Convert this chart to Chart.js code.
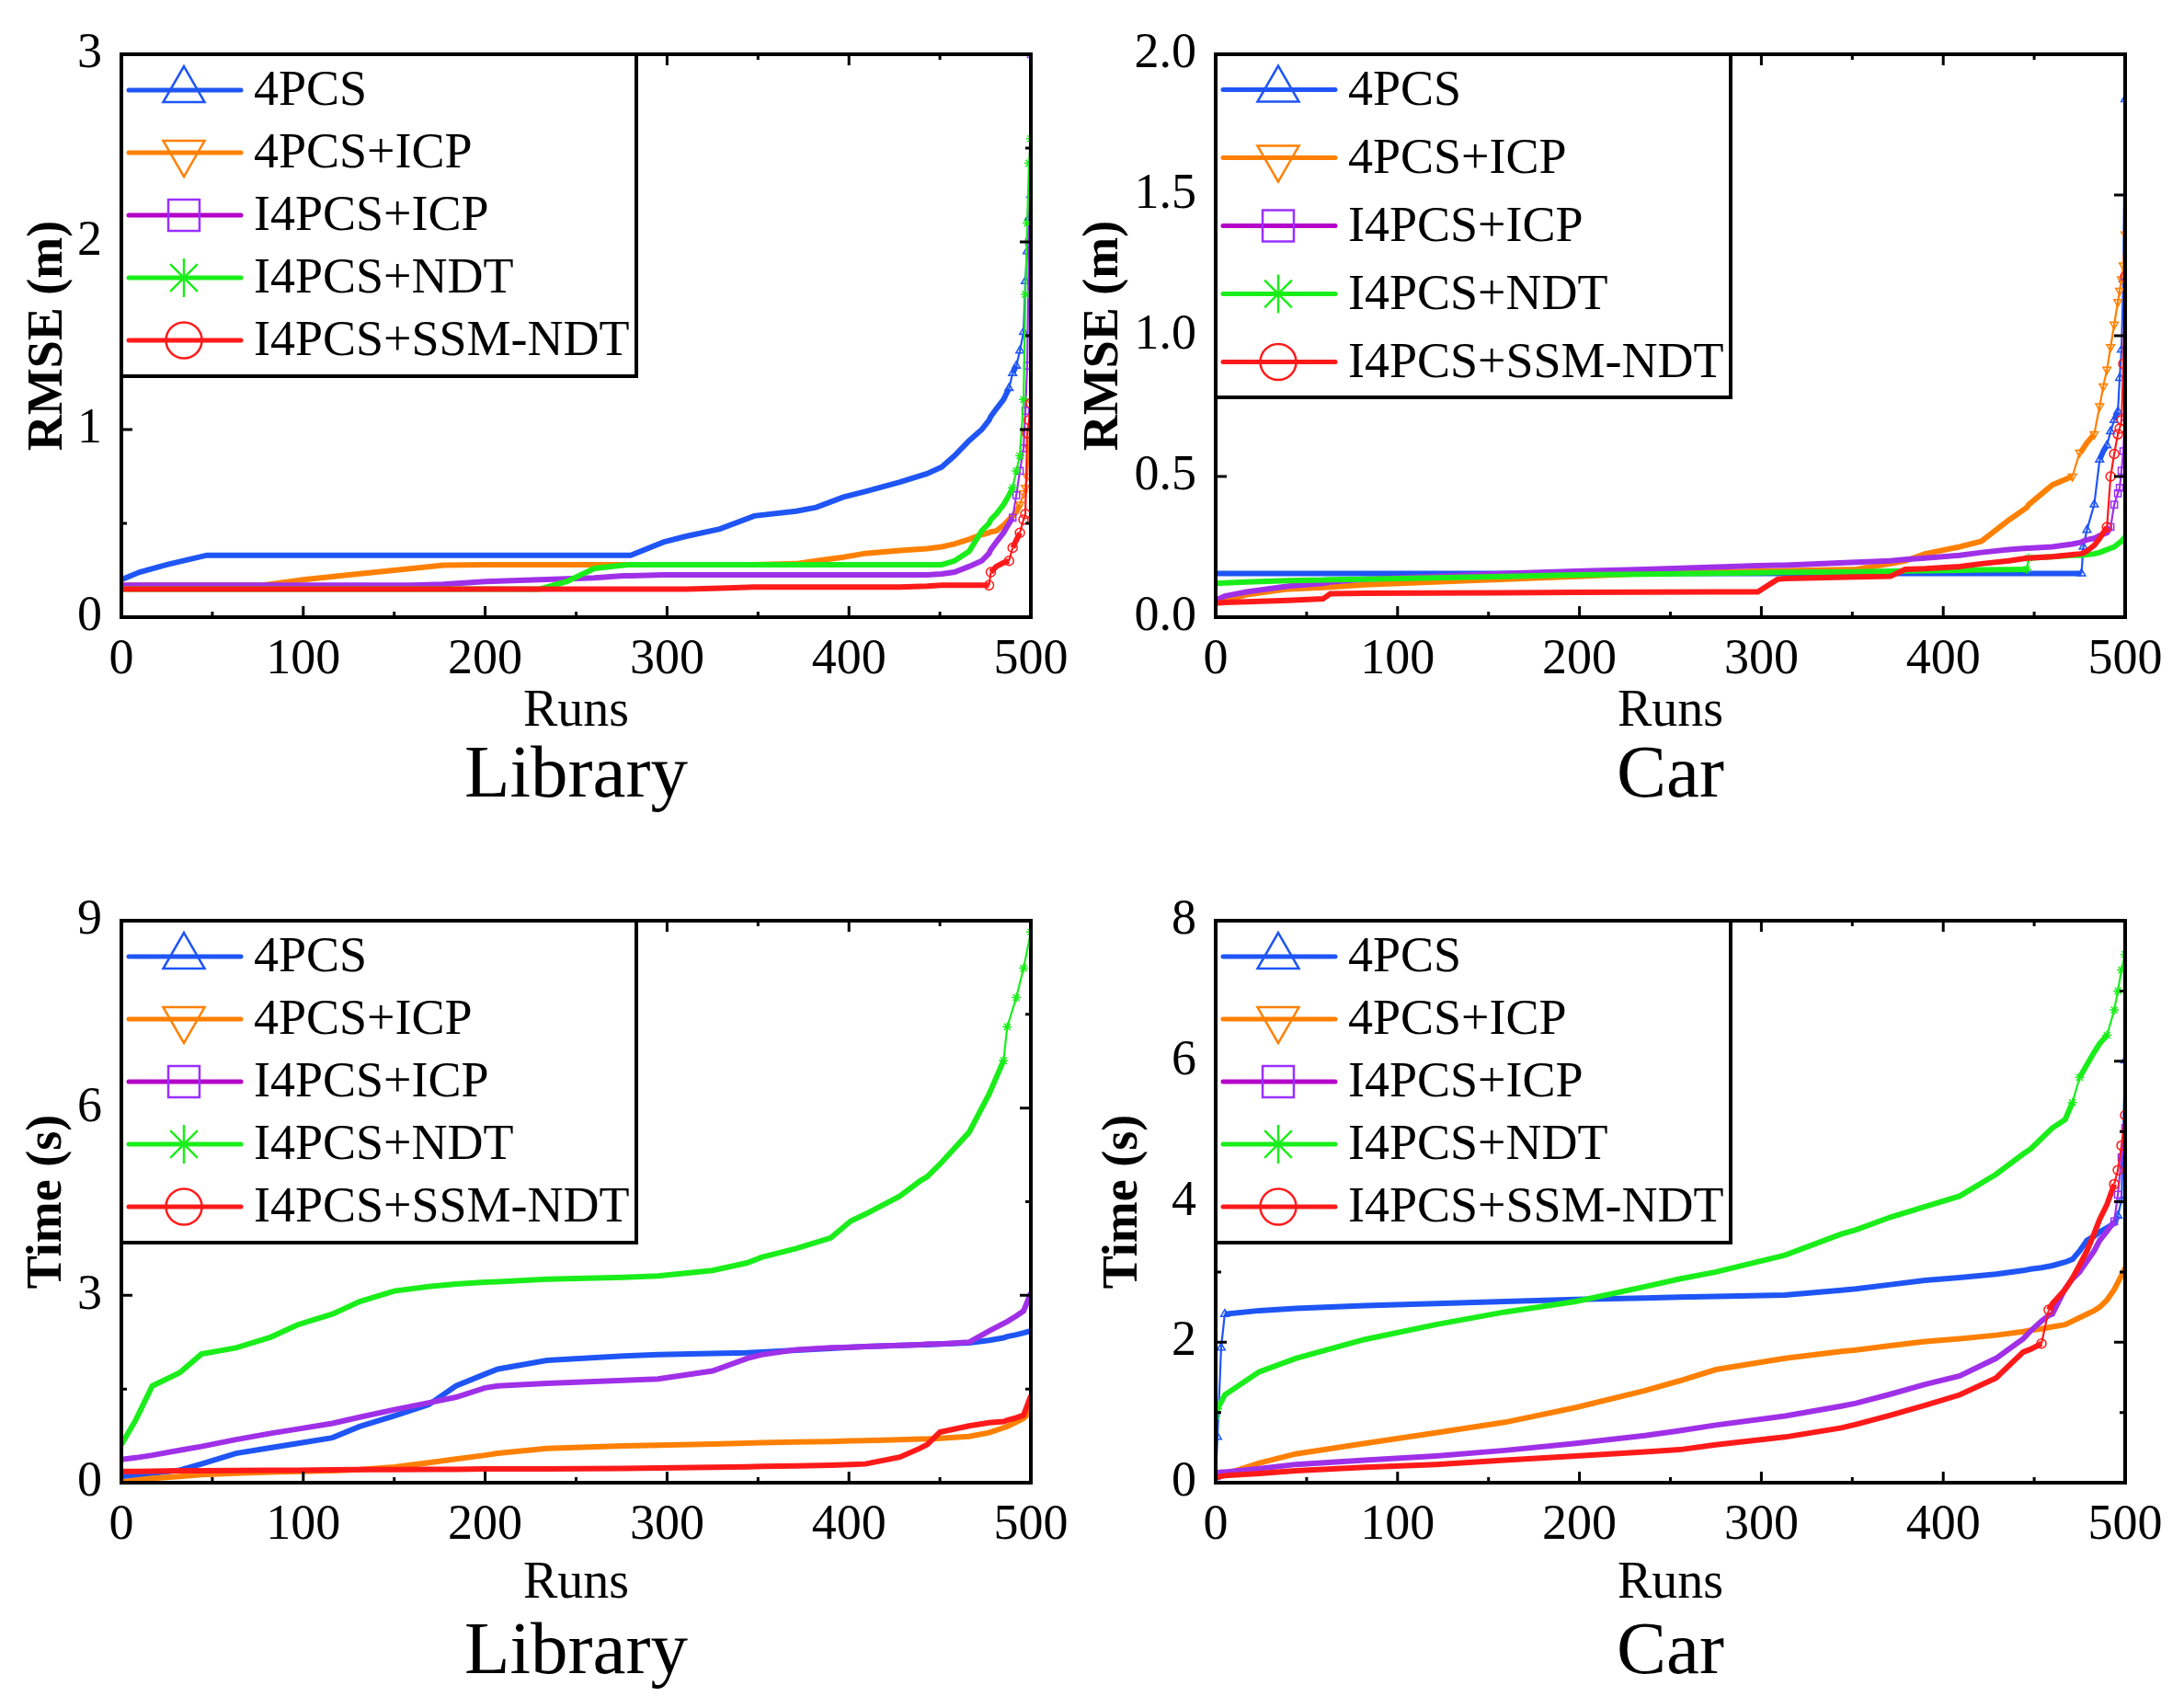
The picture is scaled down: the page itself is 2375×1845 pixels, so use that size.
<!DOCTYPE html>
<html>
<head>
<meta charset="utf-8">
<script src="https://cdn.jsdelivr.net/npm/chart.js@4.4.0/dist/chart.umd.min.js"></script>
<style>
  html, body { margin: 0; padding: 0; background: #fff; }
  body { width: 2375px; height: 1845px; position: relative; overflow: hidden; }
  canvas { position: absolute; }
</style>
</head>
<body>
<canvas id="libRmse" width="1190" height="922" style="left:0;top:0"></canvas>
<canvas id="carRmse" width="1225" height="922" style="left:1150px;top:0"></canvas>
<canvas id="libTime" width="1190" height="923" style="left:0;top:922px"></canvas>
<canvas id="carTime" width="1225" height="923" style="left:1150px;top:922px"></canvas>
<script>
// series, in legend order
const seriesNames = ['4PCS', '4PCS+ICP', 'I4PCS+ICP', 'I4PCS+NDT', 'I4PCS+SSM-NDT'];

// Library - RMSE (m)
const libRmseRuns = [0, 10, 25, 47, 78, 100, 130, 160, 177, 200, 230, 245, 260, 276, 280, 298, 310, 329, 348, 371,
  382, 397, 409, 428, 443, 451, 458, 466, 473, 477, 478, 481, 485, 488, 490, 492, 494, 496, 497, 498, 499, 500];
const libRmse4pcs = [0.20, 0.24, 0.28, 0.33, 0.33, 0.33, 0.33, 0.33, 0.33, 0.33, 0.33, 0.33, 0.33, 0.33, 0.33,
  0.40, 0.43, 0.47, 0.54, 0.565, 0.585, 0.64, 0.67, 0.72, 0.765, 0.80, 0.86, 0.94, 1.00, 1.05,
  1.07, 1.11, 1.16, 1.22, 1.30, 1.34, 1.42, 1.52, 1.79, 1.95, 2.13, 2.25];
const libRmse4pcsIcp = [0.17, 0.17, 0.17, 0.17, 0.17, 0.20, 0.23, 0.26, 0.277, 0.28, 0.28, 0.28, 0.28, 0.28, 0.28,
  0.28, 0.28, 0.28, 0.28, 0.285, 0.30, 0.32, 0.34, 0.355, 0.365, 0.375, 0.39, 0.415, 0.44, 0.45,
  0.455, 0.46, 0.49, 0.52, 0.54, 0.56, 0.60, 0.66, 0.69, 0.75, 0.90, 1.15];
const libRmseI4pcsIcp = [0.17, 0.17, 0.17, 0.17, 0.17, 0.17, 0.17, 0.17, 0.175, 0.19, 0.20, 0.205, 0.21, 0.22, 0.22,
  0.225, 0.225, 0.225, 0.225, 0.225, 0.225, 0.225, 0.225, 0.225, 0.225, 0.23, 0.24, 0.27, 0.30, 0.34,
  0.36, 0.40, 0.45, 0.50, 0.53, 0.65, 0.78, 0.90, 1.10, 1.34, 2.00, 3.00];
const libRmseI4pcsNdt = [0.15, 0.15, 0.15, 0.15, 0.15, 0.15, 0.15, 0.15, 0.15, 0.15, 0.15, 0.19, 0.26, 0.277, 0.28,
  0.28, 0.28, 0.28, 0.28, 0.28, 0.28, 0.28, 0.28, 0.28, 0.28, 0.28, 0.30, 0.35, 0.46, 0.50,
  0.52, 0.55, 0.60, 0.65, 0.69, 0.78, 0.86, 1.16, 1.72, 2.10, 2.42, 2.55];
const libRmseSsmNdt = [0.15, 0.15, 0.15, 0.15, 0.15, 0.15, 0.15, 0.15, 0.15, 0.15, 0.15, 0.15, 0.15, 0.15, 0.15,
  0.15, 0.15, 0.155, 0.16, 0.16, 0.16, 0.16, 0.16, 0.16, 0.165, 0.17, 0.17, 0.17, 0.17, 0.17,
  0.24, 0.27, 0.29, 0.30, 0.37, 0.41, 0.45, 0.52, 0.55, 0.98, 1.05, 1.14];

// Car - RMSE (m)
const carRmseRuns = [0, 5, 17, 40, 59, 63, 82, 120, 159, 198, 236, 275, 298, 309, 313, 352, 371, 379, 390, 409,
  421, 436, 446, 447, 460, 471, 475, 476, 477, 479, 483, 486, 488, 490, 492, 494, 496, 497, 498, 499, 500];
const carRmse4pcs = [0.155, 0.155, 0.155, 0.155, 0.155, 0.155, 0.155, 0.155, 0.155, 0.155, 0.155, 0.155, 0.155, 0.155,
  0.155, 0.155, 0.155, 0.155, 0.155, 0.155, 0.155, 0.155, 0.155, 0.155, 0.155, 0.155, 0.155, 0.155,
  0.25, 0.31, 0.40, 0.56, 0.59, 0.61, 0.66, 0.70, 0.73, 0.85, 0.95, 1.20, 1.84];
const carRmse4pcsIcp = [0.05, 0.06, 0.08, 0.10, 0.105, 0.107, 0.115, 0.125, 0.135, 0.145, 0.155, 0.16, 0.163, 0.165,
  0.165, 0.17, 0.19, 0.20, 0.225, 0.25, 0.27, 0.345, 0.39, 0.40, 0.47, 0.50, 0.585, 0.59, 0.60, 0.62,
  0.65, 0.75, 0.82, 0.88, 0.96, 1.04, 1.12, 1.16, 1.20, 1.25, 1.36];
const carRmseI4pcsIcp = [0.06, 0.075, 0.09, 0.11, 0.12, 0.125, 0.135, 0.145, 0.155, 0.163, 0.17, 0.178, 0.183, 0.185,
  0.185, 0.195, 0.20, 0.205, 0.21, 0.22, 0.23, 0.24, 0.245, 0.245, 0.25, 0.26, 0.265, 0.267, 0.27, 0.275,
  0.28, 0.29, 0.295, 0.30, 0.32, 0.40, 0.44, 0.46, 0.52, 0.59, 0.71];
const carRmseI4pcsNdt = [0.12, 0.122, 0.125, 0.13, 0.132, 0.133, 0.135, 0.14, 0.145, 0.15, 0.153, 0.156, 0.158, 0.159,
  0.159, 0.161, 0.163, 0.164, 0.165, 0.167, 0.168, 0.169, 0.17, 0.21, 0.215, 0.22, 0.22, 0.22, 0.221, 0.222,
  0.225, 0.23, 0.235, 0.24, 0.245, 0.25, 0.26, 0.265, 0.27, 0.278, 0.285];
const carRmseSsmNdt = [0.05, 0.052, 0.055, 0.06, 0.065, 0.083, 0.085, 0.086, 0.087, 0.088, 0.089, 0.09, 0.09, 0.135,
  0.137, 0.143, 0.145, 0.17, 0.172, 0.18, 0.19, 0.20, 0.21, 0.21, 0.215, 0.222, 0.225, 0.226, 0.228, 0.235,
  0.255, 0.28, 0.30, 0.32, 0.50, 0.58, 0.65, 0.67, 0.70, 0.90, 1.21];

// Library - Time (s)
const libTimeRuns = [0, 8, 17, 32, 44, 63, 82, 97, 116, 131, 150, 169, 184, 200, 207, 234, 276, 295, 325, 344,
  352, 371, 390, 401, 409, 428, 439, 443, 450, 466, 477, 485, 487, 492, 496, 500];
const libTime4pcs = [0.10, 0.12, 0.15, 0.20, 0.30, 0.47, 0.56, 0.63, 0.72, 0.90, 1.07, 1.25, 1.55, 1.74, 1.82,
  1.96, 2.03, 2.05, 2.07, 2.08, 2.09, 2.12, 2.15, 2.17, 2.18, 2.20, 2.21, 2.21, 2.22, 2.24,
  2.28, 2.32, 2.34, 2.37, 2.40, 2.43];
const libTime4pcsIcp = [0.01, 0.04, 0.07, 0.10, 0.13, 0.15, 0.17, 0.18, 0.19, 0.21, 0.25, 0.32, 0.38, 0.44, 0.47,
  0.55, 0.59, 0.60, 0.62, 0.635, 0.64, 0.65, 0.66, 0.67, 0.675, 0.69, 0.70, 0.70, 0.71, 0.74,
  0.80, 0.88, 0.90, 0.97, 1.03, 1.15];
const libTimeI4pcsIcp = [0.37, 0.40, 0.44, 0.52, 0.58, 0.69, 0.79, 0.86, 0.95, 1.05, 1.17, 1.28, 1.37, 1.52, 1.55,
  1.59, 1.64, 1.66, 1.79, 1.99, 2.05, 2.13, 2.16, 2.17, 2.18, 2.20, 2.21, 2.22, 2.22, 2.25,
  2.43, 2.55, 2.58, 2.67, 2.75, 3.04];
const libTimeI4pcsNdt = [0.61, 1.01, 1.55, 1.76, 2.06, 2.16, 2.33, 2.53, 2.70, 2.90, 3.07, 3.14, 3.18, 3.21, 3.22,
  3.26, 3.29, 3.31, 3.40, 3.52, 3.61, 3.75, 3.92, 4.19, 4.30, 4.59, 4.83, 4.90, 5.10, 5.61,
  6.22, 6.76, 7.30, 7.77, 8.24, 8.82];
const libTimeSsmNdt = [0.18, 0.18, 0.185, 0.19, 0.19, 0.195, 0.20, 0.20, 0.205, 0.21, 0.21, 0.215, 0.215, 0.22, 0.22,
  0.22, 0.23, 0.235, 0.245, 0.255, 0.26, 0.27, 0.28, 0.29, 0.30, 0.41, 0.55, 0.61, 0.81, 0.91,
  0.96, 0.98, 1.00, 1.04, 1.08, 1.39];

// Car - Time (s)
const carTimeRuns = [0, 1, 3, 5, 24, 44, 82, 121, 159, 198, 236, 255, 275, 313, 344, 352, 371, 390, 409, 429,
  444, 448, 454, 458, 460, 467, 471, 475, 479, 483, 486, 490, 494, 496, 498, 500];
const carTime4pcs = [0.08, 0.65, 1.92, 2.40, 2.45, 2.48, 2.52, 2.55, 2.58, 2.61, 2.63, 2.64, 2.65, 2.67, 2.74,
  2.76, 2.82, 2.88, 2.92, 2.97, 3.02, 3.04, 3.06, 3.08, 3.09, 3.14, 3.18, 3.30, 3.45, 3.51,
  3.57, 3.63, 3.69, 3.80, 4.02, 6.01];
const carTime4pcsIcp = [0.08, 0.09, 0.10, 0.12, 0.28, 0.41, 0.56, 0.71, 0.86, 1.07, 1.31, 1.45, 1.61, 1.77, 1.87,
  1.89, 1.95, 2.01, 2.05, 2.10, 2.15, 2.17, 2.19, 2.21, 2.22, 2.25, 2.30, 2.35, 2.40, 2.45,
  2.50, 2.60, 2.75, 2.85, 2.95, 3.06];
const carTimeI4pcsIcp = [0.14, 0.14, 0.15, 0.15, 0.20, 0.26, 0.32, 0.38, 0.46, 0.56, 0.67, 0.74, 0.82, 0.95, 1.09,
  1.13, 1.26, 1.40, 1.52, 1.77, 2.05, 2.16, 2.30, 2.38, 2.40, 2.76, 2.90, 3.00, 3.15, 3.30,
  3.45, 3.58, 3.72, 4.10, 4.63, 5.05];
const carTimeI4pcsNdt = [0.95, 1.05, 1.15, 1.25, 1.58, 1.77, 2.04, 2.25, 2.43, 2.58, 2.79, 2.90, 3.00, 3.24, 3.54,
  3.60, 3.78, 3.93, 4.08, 4.39, 4.68, 4.75, 4.90, 5.00, 5.05, 5.17, 5.41, 5.77, 5.95, 6.13,
  6.25, 6.37, 6.73, 7.00, 7.30, 7.52];
const carTimeSsmNdt = [0.08, 0.08, 0.09, 0.10, 0.13, 0.17, 0.22, 0.26, 0.32, 0.38, 0.44, 0.47, 0.54, 0.65, 0.78,
  0.83, 0.96, 1.10, 1.25, 1.49, 1.86, 1.90, 1.98, 2.46, 2.55, 2.75, 2.91, 3.10, 3.30, 3.55,
  3.75, 3.96, 4.25, 4.45, 4.80, 5.23];

const FONT = "'Liberation Serif', 'Times New Roman', serif";
Chart.defaults.font.family = FONT;
Chart.defaults.color = '#000';

const lineColors = ['#1f55f5', '#ff8000', '#a030e8', '#1aee1a', '#ff1a1a'];
const keyLineColors = ['#1f55f5', '#ff8000', '#b400c8', '#1aee1a', '#ff1a1a'];
const markerColors = ['#1f55f5', '#ff8000', '#9a30ff', '#1aee1a', '#ff1a1a'];
const markerStyles = [
  { pointStyle: 'triangle', rotation: 0, radius: 26 },
  { pointStyle: 'triangle', rotation: 180, radius: 26 },
  { pointStyle: 'rect', rotation: 0, radius: 24 },
  { pointStyle: 'star', rotation: 0, radius: 21 },
  { pointStyle: 'circle', rotation: 0, radius: 19.5 }
];

// box round the plot, with short ticks pointing inwards on all four sides
const framePlugin = {
  id: 'frame',
  afterDatasetsDraw(chart, args, opts) {
    const { ctx, chartArea: a, scales } = chart;
    const xs = scales.x, ys = scales.y;
    const xMajor = xs.ticks.map(t => t.value);
    const yMajor = ys.ticks.map(t => t.value);
    const mids = v => v.slice(1).map((t, i) => (t + v[i]) / 2);
    ctx.save();
    ctx.strokeStyle = '#000';
    ctx.lineWidth = 3;
    const drawX = (vals, len) => vals.forEach(v => {
      const px = xs.getPixelForValue(v);
      ctx.beginPath();
      ctx.moveTo(px, a.bottom); ctx.lineTo(px, a.bottom - len);
      ctx.moveTo(px, a.top); ctx.lineTo(px, a.top + len);
      ctx.stroke();
    });
    const drawY = (vals, len) => vals.forEach(v => {
      const py = ys.getPixelForValue(v);
      ctx.beginPath();
      ctx.moveTo(a.left, py); ctx.lineTo(a.left + len, py);
      ctx.moveTo(a.right, py); ctx.lineTo(a.right - len, py);
      ctx.stroke();
    });
    drawX(xMajor, 12);
    drawX(mids(xMajor), 6);
    drawY(yMajor, 12);
    if (opts.yMinor) drawY(mids(yMajor), 6);
    ctx.lineWidth = 4;
    ctx.strokeRect(a.left, a.top, a.right - a.left, a.bottom - a.top);
    ctx.restore();
  }
};

function drawMarker(ctx, style, x, y) {
  if (Chart.helpers && Chart.helpers.drawPoint) {
    Chart.helpers.drawPoint(ctx, Object.assign({ borderWidth: 2.5 }, style), x, y);
    return;
  }
  ctx.beginPath();
  ctx.arc(x, y, style.radius, 0, Math.PI * 2);
  ctx.stroke();
}

// boxed key in the top left corner of the plot
const keyPlugin = {
  id: 'key',
  afterDraw(chart, args, opts) {
    const { ctx, chartArea: a } = chart;
    const h = opts.first * 2 + opts.gap * 4;
    ctx.save();
    ctx.fillStyle = '#fff';
    ctx.fillRect(a.left, a.top, 560, h);
    ctx.lineWidth = 4;
    ctx.strokeStyle = '#000';
    ctx.strokeRect(a.left, a.top, 560, h);
    chart.data.datasets.forEach((ds, i) => {
      const y = a.top + opts.first + opts.gap * i;
      ctx.lineCap = 'round';
      ctx.lineWidth = 5;
      ctx.strokeStyle = keyLineColors[i];
      ctx.beginPath();
      ctx.moveTo(a.left + 8, y);
      ctx.lineTo(a.left + 130, y);
      ctx.stroke();
      ctx.lineCap = 'butt';
      ctx.lineWidth = 2.5;
      ctx.strokeStyle = markerColors[i];
      ctx.fillStyle = 'rgba(0,0,0,0)';
      drawMarker(ctx, markerStyles[i], a.left + 68, y);
      ctx.fillStyle = '#000';
      ctx.font = '54px ' + FONT;
      ctx.textAlign = 'left';
      ctx.textBaseline = 'middle';
      ctx.fillText(ds.label, a.left + 144, y + 2);
    });
    ctx.restore();
  }
};

// steep stretches: markers there sit apart and the line is thin
const STEEP = 3;
function pixelSlope(r0, v0, r1, v1, yMax) {
  const dx = (r1 - r0) / 500 * 989;
  const dy = (v1 - v0) / yMax * 612;
  return Math.abs(dy / (dx || 0.01));
}

function makeChart(id, p) {
  const datasets = p.values.map((vals, i) => {
    const steep = p.runs.map((r, k) => {
      const before = k > 0 && pixelSlope(p.runs[k - 1], vals[k - 1], r, vals[k], p.yMax) > STEEP;
      const after = k < p.runs.length - 1 && pixelSlope(r, vals[k], p.runs[k + 1], vals[k + 1], p.yMax) > STEEP;
      return before || after;
    });
    return {
      label: seriesNames[i],
      data: p.runs.map((r, k) => ({ x: r, y: vals[k] })),
      borderColor: lineColors[i],
      backgroundColor: lineColors[i],
      borderWidth: 6,
      segment: {
        borderWidth: c => {
          const dx = c.p1.x - c.p0.x;
          return Math.abs((c.p1.y - c.p0.y) / (dx || 0.01)) > STEEP ? 2.2 : 6;
        }
      },
      pointRadius: steep.map(s => (s ? 5 : 0)),
      pointStyle: markerStyles[i].pointStyle,
      pointRotation: markerStyles[i].rotation,
      pointBorderWidth: 1.5,
      pointBorderColor: markerColors[i],
      pointBackgroundColor: 'rgba(0,0,0,0)',
      tension: 0,
      fill: false,
      order: 4 - i
    };
  });
  return new Chart(document.getElementById(id), {
    type: 'line',
    data: { datasets },
    plugins: [framePlugin, keyPlugin],
    options: {
      responsive: false,
      animation: false,
      devicePixelRatio: 1,
      layout: { padding: { left: 0, top: p.padTop, right: p.padRight, bottom: 0 } },
      scales: {
        x: {
          type: 'linear',
          min: 0,
          max: 500,
          grid: { display: false },
          border: { display: false },
          ticks: { stepSize: 100, padding: 12, maxRotation: 0, autoSkip: false, color: '#000',
            font: { size: 54, lineHeight: 1 } },
          title: { display: true, text: 'Runs', color: '#000', font: { size: 56, lineHeight: 1 },
            padding: { top: 0, bottom: p.runsPad } },
          afterFit(scale) { scale.height = p.xHeight; }
        },
        y: {
          type: 'linear',
          min: 0,
          max: p.yMax,
          grid: { display: false },
          border: { display: false },
          ticks: { stepSize: p.yStep, padding: 13, color: '#000', font: { size: 54, lineHeight: 1 },
            callback: v => v.toFixed(p.decimals) },
          title: { display: true, text: p.yTitle, color: '#000',
            font: { size: 54, weight: 'bold', lineHeight: 1 },
            padding: { top: p.yTitlePad, bottom: 0 } },
          afterFit(scale) { scale.width = p.yWidth; }
        }
      },
      plugins: {
        legend: { display: false },
        tooltip: { enabled: false },
        title: { display: true, text: p.name, position: 'bottom', fullSize: false, color: '#000',
          font: { size: 81, weight: 'normal', lineHeight: 1 }, padding: { top: 0, bottom: p.namePad } },
        frame: { yMinor: p.yMinor },
        key: { first: p.first, gap: p.gap }
      }
    }
  });
}

makeChart('libRmse', {
  runs: libRmseRuns,
  values: [libRmse4pcs, libRmse4pcsIcp, libRmseI4pcsIcp, libRmseI4pcsNdt, libRmseSsmNdt],
  yMax: 3, yStep: 1, decimals: 0, yMinor: true, yTitle: 'RMSE (m)', name: 'Library',
  padTop: 59, padRight: 69, yWidth: 132, yTitlePad: 26, xHeight: 133.2, runsPad: 2.2, namePad: 36.8,
  first: 39, gap: 68
});
makeChart('carRmse', {
  runs: carRmseRuns,
  values: [carRmse4pcs, carRmse4pcsIcp, carRmseI4pcsIcp, carRmseI4pcsNdt, carRmseSsmNdt],
  yMax: 2, yStep: 0.5, decimals: 1, yMinor: false, yTitle: 'RMSE (m)', name: 'Car',
  padTop: 59, padRight: 64, yWidth: 172, yTitlePad: 24, xHeight: 133.2, runsPad: 2.2, namePad: 36.8,
  first: 38.5, gap: 74
});
makeChart('libTime', {
  runs: libTimeRuns,
  values: [libTime4pcs, libTime4pcsIcp, libTimeI4pcsIcp, libTimeI4pcsNdt, libTimeSsmNdt],
  yMax: 9, yStep: 3, decimals: 0, yMinor: true, yTitle: 'Time (s)', name: 'Library',
  padTop: 79, padRight: 69, yWidth: 132, yTitlePad: 25, xHeight: 145.2, runsPad: 6.7, namePad: 6.8,
  first: 39, gap: 68
});
makeChart('carTime', {
  runs: carTimeRuns,
  values: [carTime4pcs, carTime4pcsIcp, carTimeI4pcsIcp, carTimeI4pcsNdt, carTimeSsmNdt],
  yMax: 8, yStep: 2, decimals: 0, yMinor: true, yTitle: 'Time (s)', name: 'Car',
  padTop: 79, padRight: 64, yWidth: 172, yTitlePad: 45, xHeight: 145.2, runsPad: 6.7, namePad: 6.8,
  first: 39, gap: 68
});
</script>
</body>
</html>
